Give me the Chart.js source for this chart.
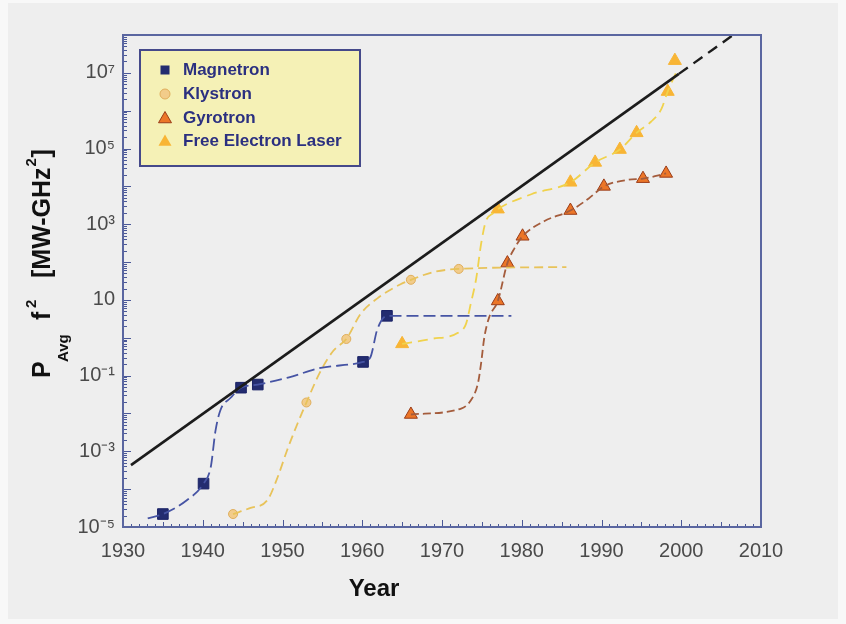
<!DOCTYPE html>
<html>
<head>
<meta charset="utf-8">
<script src="https://cdn.jsdelivr.net/npm/chart.js@4.4.1/dist/chart.umd.min.js"></script>
<style>
html, body { margin: 0; padding: 0; background: #f8f8f8; }
#wrap { width: 846px; height: 624px; }
</style>
</head>
<body>
<div id="wrap"><canvas id="myChart" width="846" height="624"></canvas></div>
<script>
// markers
const magYears = [1935.0, 1940.1, 1944.8, 1946.9, 1960.1, 1963.1];
const magValues = [2.2e-5, 1.4e-4, 0.048, 0.058, 0.23, 3.8];
const klyYears = [1943.8, 1953.0, 1958.0, 1966.1, 1972.1];
const klyValues = [2.2e-5, 0.0195, 0.93, 34, 66];
const gyroYears = [1966.1, 1977.0, 1978.2, 1980.1, 1986.1, 1990.3, 1995.2, 1998.1];
const gyroValues = [0.0094, 9.4, 94, 480, 2300, 1.0e4, 1.6e4, 2.2e4];
const felYears = [1965.0, 1977.0, 1986.1, 1989.2, 1992.3, 1994.4, 1998.3, 1999.2];
const felValues = [0.69, 2500, 1.28e4, 4.3e4, 9.4e4, 2.6e5, 3.2e6, 2.1e7];

// dashed fit curves
const magCurveYears = [1933.1, 1935.0, 1938.0, 1940.1, 1941.0, 1941.6, 1942.2, 1943.5, 1944.8, 1946.9, 1950.7, 1954.8, 1960.1, 1961.0, 1961.9, 1963.1, 1978.7];
const magCurveValues = [1.7e-5, 2.2e-5, 5.1e-5, 1.4e-4, 3.8e-4, 3.5e-3, 0.012, 0.026, 0.048, 0.058, 0.089, 0.16, 0.23, 0.3, 1.7, 3.8, 3.8];
const klyCurveYears = [1943.8, 1946.0, 1948.1, 1949.4, 1950.6, 1951.9, 1953.0, 1954.8, 1956.4, 1958.0, 1959.8, 1961.9, 1964.8, 1966.1, 1969.0, 1972.1, 1985.6];
const klyCurveValues = [2.2e-5, 3.2e-5, 5.1e-5, 2.1e-4, 1.1e-3, 5.5e-3, 0.0195, 0.135, 0.46, 0.93, 4.3, 11, 26, 34, 55, 66, 74];
const gyroCurveYears = [1966.1, 1972.4, 1973.6, 1974.5, 1974.9, 1975.3, 1975.9, 1977.0, 1978.2, 1979.1, 1980.1, 1982.8, 1986.1, 1988.4, 1990.3, 1993.4, 1995.2, 1998.1];
const gyroCurveValues = [0.0094, 0.0135, 0.022, 0.062, 0.21, 1.0, 3.4, 9.4, 94, 234, 480, 1200, 2300, 4800, 1.0e4, 1.5e4, 1.6e4, 2.2e4];
const felCurveYears = [1965.0, 1968.6, 1972.0, 1973.0, 1973.6, 1974.3, 1974.9, 1975.5, 1976.4, 1977.0, 1981.2, 1986.1, 1989.2, 1992.3, 1994.4, 1996.2, 1997.5, 1998.3, 1999.4];
const felCurveValues = [0.69, 0.93, 1.35, 2.3, 7.8, 38, 300, 1200, 1950, 2500, 6200, 1.28e4, 4.3e4, 9.4e4, 2.6e5, 5.1e5, 1.1e6, 3.2e6, 1.07e7];

// trend line (solid, then dashed extension)
const trendYears = [1931.0, 1999.7];
const trendValues = [4.3e-4, 9.4e6];
const trendExtYears = [1999.7, 2006.5];
const trendExtValues = [9.4e6, 1.0e8];

const xTickYears = [1930, 1940, 1950, 1960, 1970, 1980, 1990, 2000, 2010];
const yTickExponents = [-5, -3, -1, 1, 3, 5, 7];
const yTickLabels = ['10⁻⁵', '10⁻³', '10⁻¹', '10', '10³', '10⁵', '10⁷'];

const seriesNames = ['Magnetron', 'Klystron', 'Gyrotron', 'Free Electron Laser'];

const FONT = '"Liberation Sans", Arial, sans-serif';

function pts(xs, ys) {
    return xs.map((x, i) => ({ x: x, y: ys[i] }));
}

function curve(xs, ys, color, dash, width) {
    return {
        data: pts(xs, ys),
        showLine: true,
        borderColor: color,
        borderWidth: width || 1.8,
        borderDash: dash,
        pointRadius: 0,
        cubicInterpolationMode: 'monotone',
        fill: false
    };
}

function markers(xs, ys, style, r, fill, stroke) {
    return {
        data: pts(xs, ys),
        showLine: false,
        pointStyle: style,
        pointRadius: r,
        backgroundColor: fill,
        borderColor: stroke,
        borderWidth: 1
    };
}

const bgPlugin = {
    id: 'bg',
    beforeDraw(chart) {
        const c = chart.ctx;
        c.save();
        c.fillStyle = '#f8f8f8';
        c.fillRect(0, 0, chart.width, chart.height);
        c.fillStyle = '#eeeeee';
        c.fillRect(8, 3, chart.width - 16, chart.height - 8);
        c.restore();
    }
};

const decorPlugin = {
    id: 'decor',
    afterDatasetsDraw(chart) {
        const c = chart.ctx;
        const a = chart.chartArea;
        const xs = chart.scales.x;
        const ys = chart.scales.y;
        c.save();

        // inner tick marks
        c.strokeStyle = '#4a5898';
        c.lineWidth = 1;
        c.beginPath();
        for (let yr = 1930; yr <= 2010; yr++) {
            const px = Math.round(xs.getPixelForValue(yr)) + 0.5;
            const len = yr % 10 === 0 ? 7 : (yr % 5 === 0 ? 5 : 3);
            c.moveTo(px, a.bottom);
            c.lineTo(px, a.bottom - len);
        }
        for (let e = -5; e <= 7; e++) {
            for (let m = 1; m <= 9; m++) {
                const py = Math.round(ys.getPixelForValue(m * Math.pow(10, e))) + 0.5;
                const len = m === 1 ? 8 : 4;
                c.moveTo(a.left, py);
                c.lineTo(a.left + len, py);
            }
        }
        c.stroke();

        // frame
        c.strokeStyle = '#5a66a0';
        c.lineWidth = 2;
        c.strokeRect(a.left, a.top, a.right - a.left, a.bottom - a.top);

        // legend box
        const bx = 140, by = 50, bw = 220, bh = 116;
        c.fillStyle = '#f5f1b6';
        c.fillRect(bx, by, bw, bh);
        c.strokeStyle = '#45498a';
        c.lineWidth = 2;
        c.strokeRect(bx, by, bw, bh);
        const rows = [70, 94, 118, 141];
        const mx = 165;
        // magnetron square
        c.fillStyle = '#232c70';
        c.fillRect(mx - 4.5, rows[0] - 4.5, 9, 9);
        // klystron circle
        c.beginPath();
        c.arc(mx, rows[1], 5, 0, Math.PI * 2);
        c.fillStyle = '#f2cc8a';
        c.fill();
        c.strokeStyle = '#e0ae5c';
        c.lineWidth = 1;
        c.stroke();
        // triangles
        const tri = (y, fill, stroke) => {
            const r = 7.5;
            c.beginPath();
            for (let k = 0; k < 3; k++) {
                const ang = k * 2 * Math.PI / 3;
                const px = mx + Math.sin(ang) * r, py = y + 1 - Math.cos(ang) * r;
                if (k === 0) c.moveTo(px, py); else c.lineTo(px, py);
            }
            c.closePath();
            c.fillStyle = fill;
            c.fill();
            if (stroke) { c.strokeStyle = stroke; c.lineWidth = 1; c.stroke(); }
        };
        tri(rows[2], '#ec7628', '#9a3c18');
        tri(rows[3], '#f8b535', null);
        c.fillStyle = '#2b3080';
        c.font = 'bold 17px ' + FONT;
        c.textAlign = 'left';
        c.textBaseline = 'middle';
        seriesNames.forEach((n, i) => c.fillText(n, 183, rows[i]));

        // x title
        c.fillStyle = '#111';
        c.font = 'bold 24px ' + FONT;
        c.textAlign = 'center';
        c.fillText('Year', 374, 589);

        // y title, rotated
        c.translate(43, 378);
        c.rotate(-Math.PI / 2);
        c.textAlign = 'left';
        c.textBaseline = 'middle';
        c.font = 'bold 25px ' + FONT;
        c.fillText('P', 0, 0);
        c.fillText('f', 58, 0);
        const w = c.measureText('[MW-GHz').width;
        c.fillText('[MW-GHz', 100, 0);
        c.fillText(']', 100 + w + 10, 0);
        c.font = 'bold 15px ' + FONT;
        c.fillText('Avg', 16, 21);
        c.fillText('2', 70, -11);
        c.fillText('2', 100 + w + 1, -11);
        c.restore();
    }
};

new Chart(document.getElementById('myChart'), {
    type: 'scatter',
    data: {
        datasets: [
            curve(trendYears, trendValues, '#1c1c1c', [], 2.6),
            curve(trendExtYears, trendExtValues, '#1c1c1c', [11, 7], 2.4),
            curve(magCurveYears, magCurveValues, '#4654a4', [12, 5]),
            curve(klyCurveYears, klyCurveValues, '#e8c35a', [9, 5]),
            curve(gyroCurveYears, gyroCurveValues, '#a45c3c', [8, 4]),
            curve(felCurveYears, felCurveValues, '#f0d24c', [10, 6]),
            markers(magYears, magValues, 'rect', 7.5, '#232c70', '#1a2266'),
            markers(klyYears, klyValues, 'circle', 4.5, '#f2cc8a', '#e0ae5c'),
            markers(gyroYears, gyroValues, 'triangle', 7.5, '#ec7628', '#9a3c18'),
            markers(felYears, felValues, 'triangle', 7.5, '#f8b535', '#f8b535')
        ]
    },
    options: {
        responsive: false,
        animation: false,
        devicePixelRatio: 1,
        layout: { padding: { left: 0, top: 35, right: 85, bottom: 0 } },
        plugins: {
            legend: { display: false },
            tooltip: { enabled: false }
        },
        scales: {
            x: {
                type: 'linear',
                min: 1930,
                max: 2010,
                afterBuildTicks: s => { s.ticks = xTickYears.map(v => ({ value: v })); },
                afterFit: s => { s.height = 97; },
                ticks: {
                    color: '#4a4a4a',
                    font: { size: 20, family: FONT },
                    padding: 12,
                    maxRotation: 0,
                    autoSkip: false,
                    callback: v => String(v)
                },
                grid: { display: false, drawTicks: false },
                border: { display: false }
            },
            y: {
                type: 'logarithmic',
                min: 1e-5,
                max: 1e8,
                afterBuildTicks: s => { s.ticks = yTickExponents.map(e => ({ value: Math.pow(10, e) })); },
                afterFit: s => { s.width = 123; },
                ticks: {
                    color: '#4a4a4a',
                    font: { size: 20, family: FONT },
                    padding: 8,
                    autoSkip: false,
                    callback: (v, i) => yTickLabels[i]
                },
                grid: { display: false, drawTicks: false },
                border: { display: false }
            }
        }
    },
    plugins: [bgPlugin, decorPlugin]
});
</script>
</body>
</html>
